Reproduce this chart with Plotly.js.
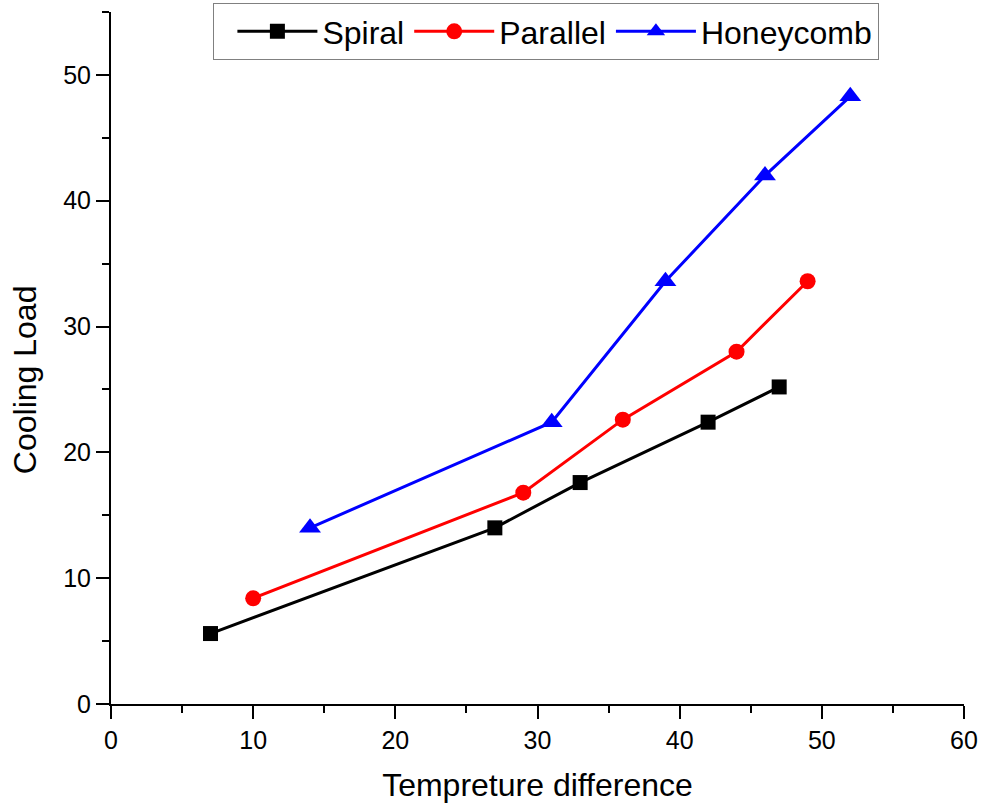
<!DOCTYPE html>
<html>
<head>
<meta charset="utf-8">
<script src="https://cdn.plot.ly/plotly-3.0.1.min.js"></script>
<style>html,body{margin:0;padding:0;background:#fff;}#chart{width:981px;height:805px;}</style>
</head>
<body>
<div id="chart"></div>
<script>
var spiralX = [7, 27, 33, 42, 47];
var spiralY = [5.6, 14.0, 17.6, 22.4, 25.2];
var parallelX = [10, 29, 36, 44, 49];
var parallelY = [8.4, 16.8, 22.6, 28.0, 33.6];
var honeyX = [14, 31, 39, 46, 52];
var honeyY = [14.0, 22.4, 33.6, 42.0, 48.3];
var seriesNames = ["Spiral", "Parallel", "Honeycomb"];
var xTitle = "Tempreture difference";
var yTitle = "Cooling Load";

var font = "Liberation Sans, Arial, sans-serif";
function tr(x, y, name, color, symbol, size) {
  return {
    x: x, y: y, name: name, type: "scatter", mode: "lines+markers",
    line: {color: color, width: 3},
    marker: {color: color, symbol: symbol, size: size, line: {width: 0}},
    cliponaxis: false
  };
}
var data = [
  tr(spiralX, spiralY, seriesNames[0], "#000000", "square", 15),
  tr(parallelX, parallelY, seriesNames[1], "#ff0000", "circle", 16),
  tr(honeyX, honeyY, seriesNames[2], "#0000ff", "triangle-up", 19)
];
function axis(range) {
  return {
    range: range, autorange: false, dtick: 10, tick0: 0,
    showgrid: false, zeroline: false,
    showline: true, linecolor: "#000", linewidth: 2,
    ticks: "outside", ticklen: 13, tickwidth: 2, tickcolor: "#000",
    minor: {dtick: 5, ticks: "outside", ticklen: 7, tickwidth: 2, tickcolor: "#000", showgrid: false},
    tickfont: {family: font, size: 25, color: "#000"},
    automargin: false, fixedrange: true
  };
}
var xa = axis([0, 60]);
xa.title = {text: xTitle, font: {family: font, size: 32, color: "#000"}, standoff: 21};
var ya = axis([0, 55]);
var layout = {
  width: 981, height: 805,
  margin: {l: 111, r: 17, t: 12, b: 101, autoexpand: false},
  paper_bgcolor: "#fff", plot_bgcolor: "#fff",
  xaxis: xa, yaxis: ya,
  showlegend: true,
  legend: {
    orientation: "h", x: 0.119, y: 1.013, xanchor: "left", yanchor: "top",
    bordercolor: "#808080", borderwidth: 1, bgcolor: "#fff",
    font: {family: font, size: 32, color: "#000"},
    title: {text: "\u00a0", side: "left", font: {family: font, size: 32}},
    itemwidth: 80, tracegroupgap: 0
  },
  annotations: [{
    text: yTitle, xref: "paper", yref: "paper",
    x: -0.1008, y: 0.468, xanchor: "center", yanchor: "middle",
    textangle: -90, showarrow: false,
    font: {family: font, size: 32, color: "#000"}
  }]
};
Plotly.newPlot("chart", data, layout, {displayModeBar: false, staticPlot: true});
</script>
</body>
</html>
